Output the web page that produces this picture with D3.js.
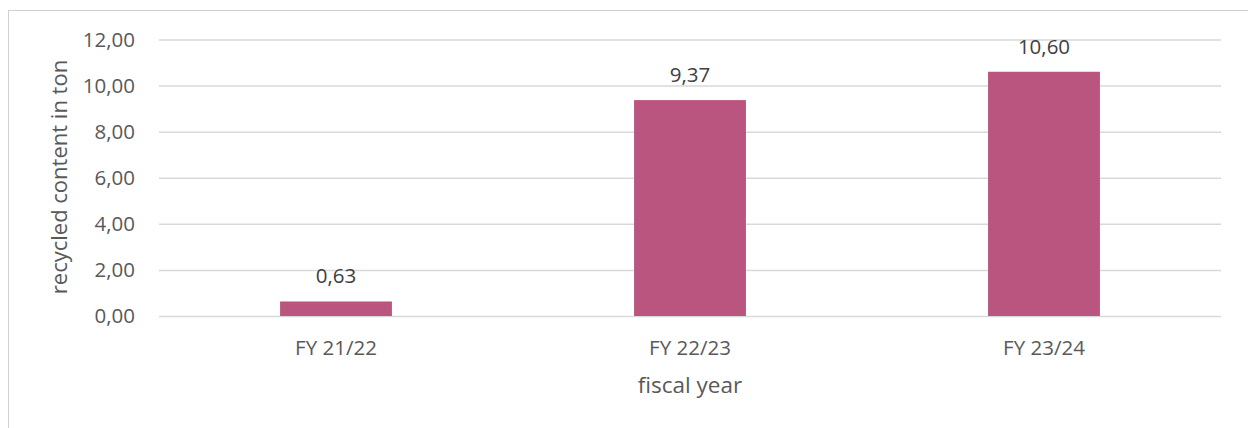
<!DOCTYPE html>
<html>
<head>
<meta charset="utf-8">
<script src="https://cdn.jsdelivr.net/npm/d3@7"></script>
<style>
  html, body { margin: 0; padding: 0; background: #fff; }
  svg { display: block; font-family: "Open Sans", "Noto Sans", sans-serif; }
</style>
</head>
<body>
<svg id="chart" width="1248" height="428"></svg>
<script>
// Recycled content per fiscal year (tons)
const categories = ["FY 21/22", "FY 22/23", "FY 23/24"];
const values = [0.63, 9.37, 10.60];
const yTicks = [0, 2, 4, 6, 8, 10, 12];

const W = 1248, H = 428;
const plot = { left: 159, right: 1221, top: 39.5, bottom: 316 };
const textColor = "#595959";
const numSize = 20.5;
const catSize = 20.5;
const titleSize = 22;

const svg = d3.select("#chart");

// chart frame
svg.append("rect")
  .attr("x", 8.5).attr("y", 10.5)
  .attr("width", W + 10).attr("height", H + 10)
  .attr("fill", "none").attr("stroke", "#d0d0d0").attr("stroke-width", 1);

const fmt = v => d3.format(".2f")(v).replace(".", ",");

const y = d3.scaleLinear().domain([0, 12]).range([plot.bottom, plot.top]);
const x = d3.scaleBand().domain(categories).range([plot.left, plot.right]).paddingInner(0).paddingOuter(0);
const barW = x.bandwidth() * 0.316;

// gridlines + y tick labels
const yAxis = d3.axisLeft(y).tickValues(yTicks).tickSize(-(plot.right - plot.left)).tickPadding(24).tickFormat(fmt);
const gy = svg.append("g").attr("transform", `translate(${plot.left},0)`).call(yAxis);
gy.select(".domain").remove();
gy.selectAll(".tick line").attr("stroke", "#d9d9d9").attr("stroke-width", 1.5);
gy.selectAll(".tick text").attr("fill", textColor).attr("font-size", numSize)
  .attr("font-family", "'Open Sans', sans-serif");

// bars
svg.append("g").selectAll("rect").data(values).join("rect")
  .attr("x", (d, i) => x(categories[i]) + x.bandwidth() / 2 - barW / 2)
  .attr("y", d => y(d))
  .attr("width", barW)
  .attr("height", d => y(0) - y(d))
  .attr("fill", "#B9557E");

// value labels
svg.append("g").selectAll("text").data(values).join("text")
  .attr("x", (d, i) => x(categories[i]) + x.bandwidth() / 2)
  .attr("y", d => y(d) - 18)
  .attr("text-anchor", "middle")
  .attr("fill", "#404040").attr("font-size", numSize)
  .text(d => fmt(d));

// x category labels
const xAxis = d3.axisBottom(x).tickSize(0).tickPadding(24);
const gx = svg.append("g").attr("transform", `translate(0,${plot.bottom})`).call(xAxis);
gx.select(".domain").remove();
gx.selectAll(".tick text").attr("fill", textColor).attr("font-size", catSize)
  .attr("font-family", "'Open Sans', sans-serif");

// axis titles
svg.append("text")
  .attr("x", (plot.left + plot.right) / 2).attr("y", 393)
  .attr("text-anchor", "middle").attr("fill", textColor).attr("font-size", 22.5)
  .text("fiscal year");

svg.append("text")
  .attr("transform", `translate(67,177) rotate(-90)`)
  .attr("text-anchor", "middle").attr("fill", textColor).attr("font-size", titleSize)
  .text("recycled content in ton");
</script>
</body>
</html>
